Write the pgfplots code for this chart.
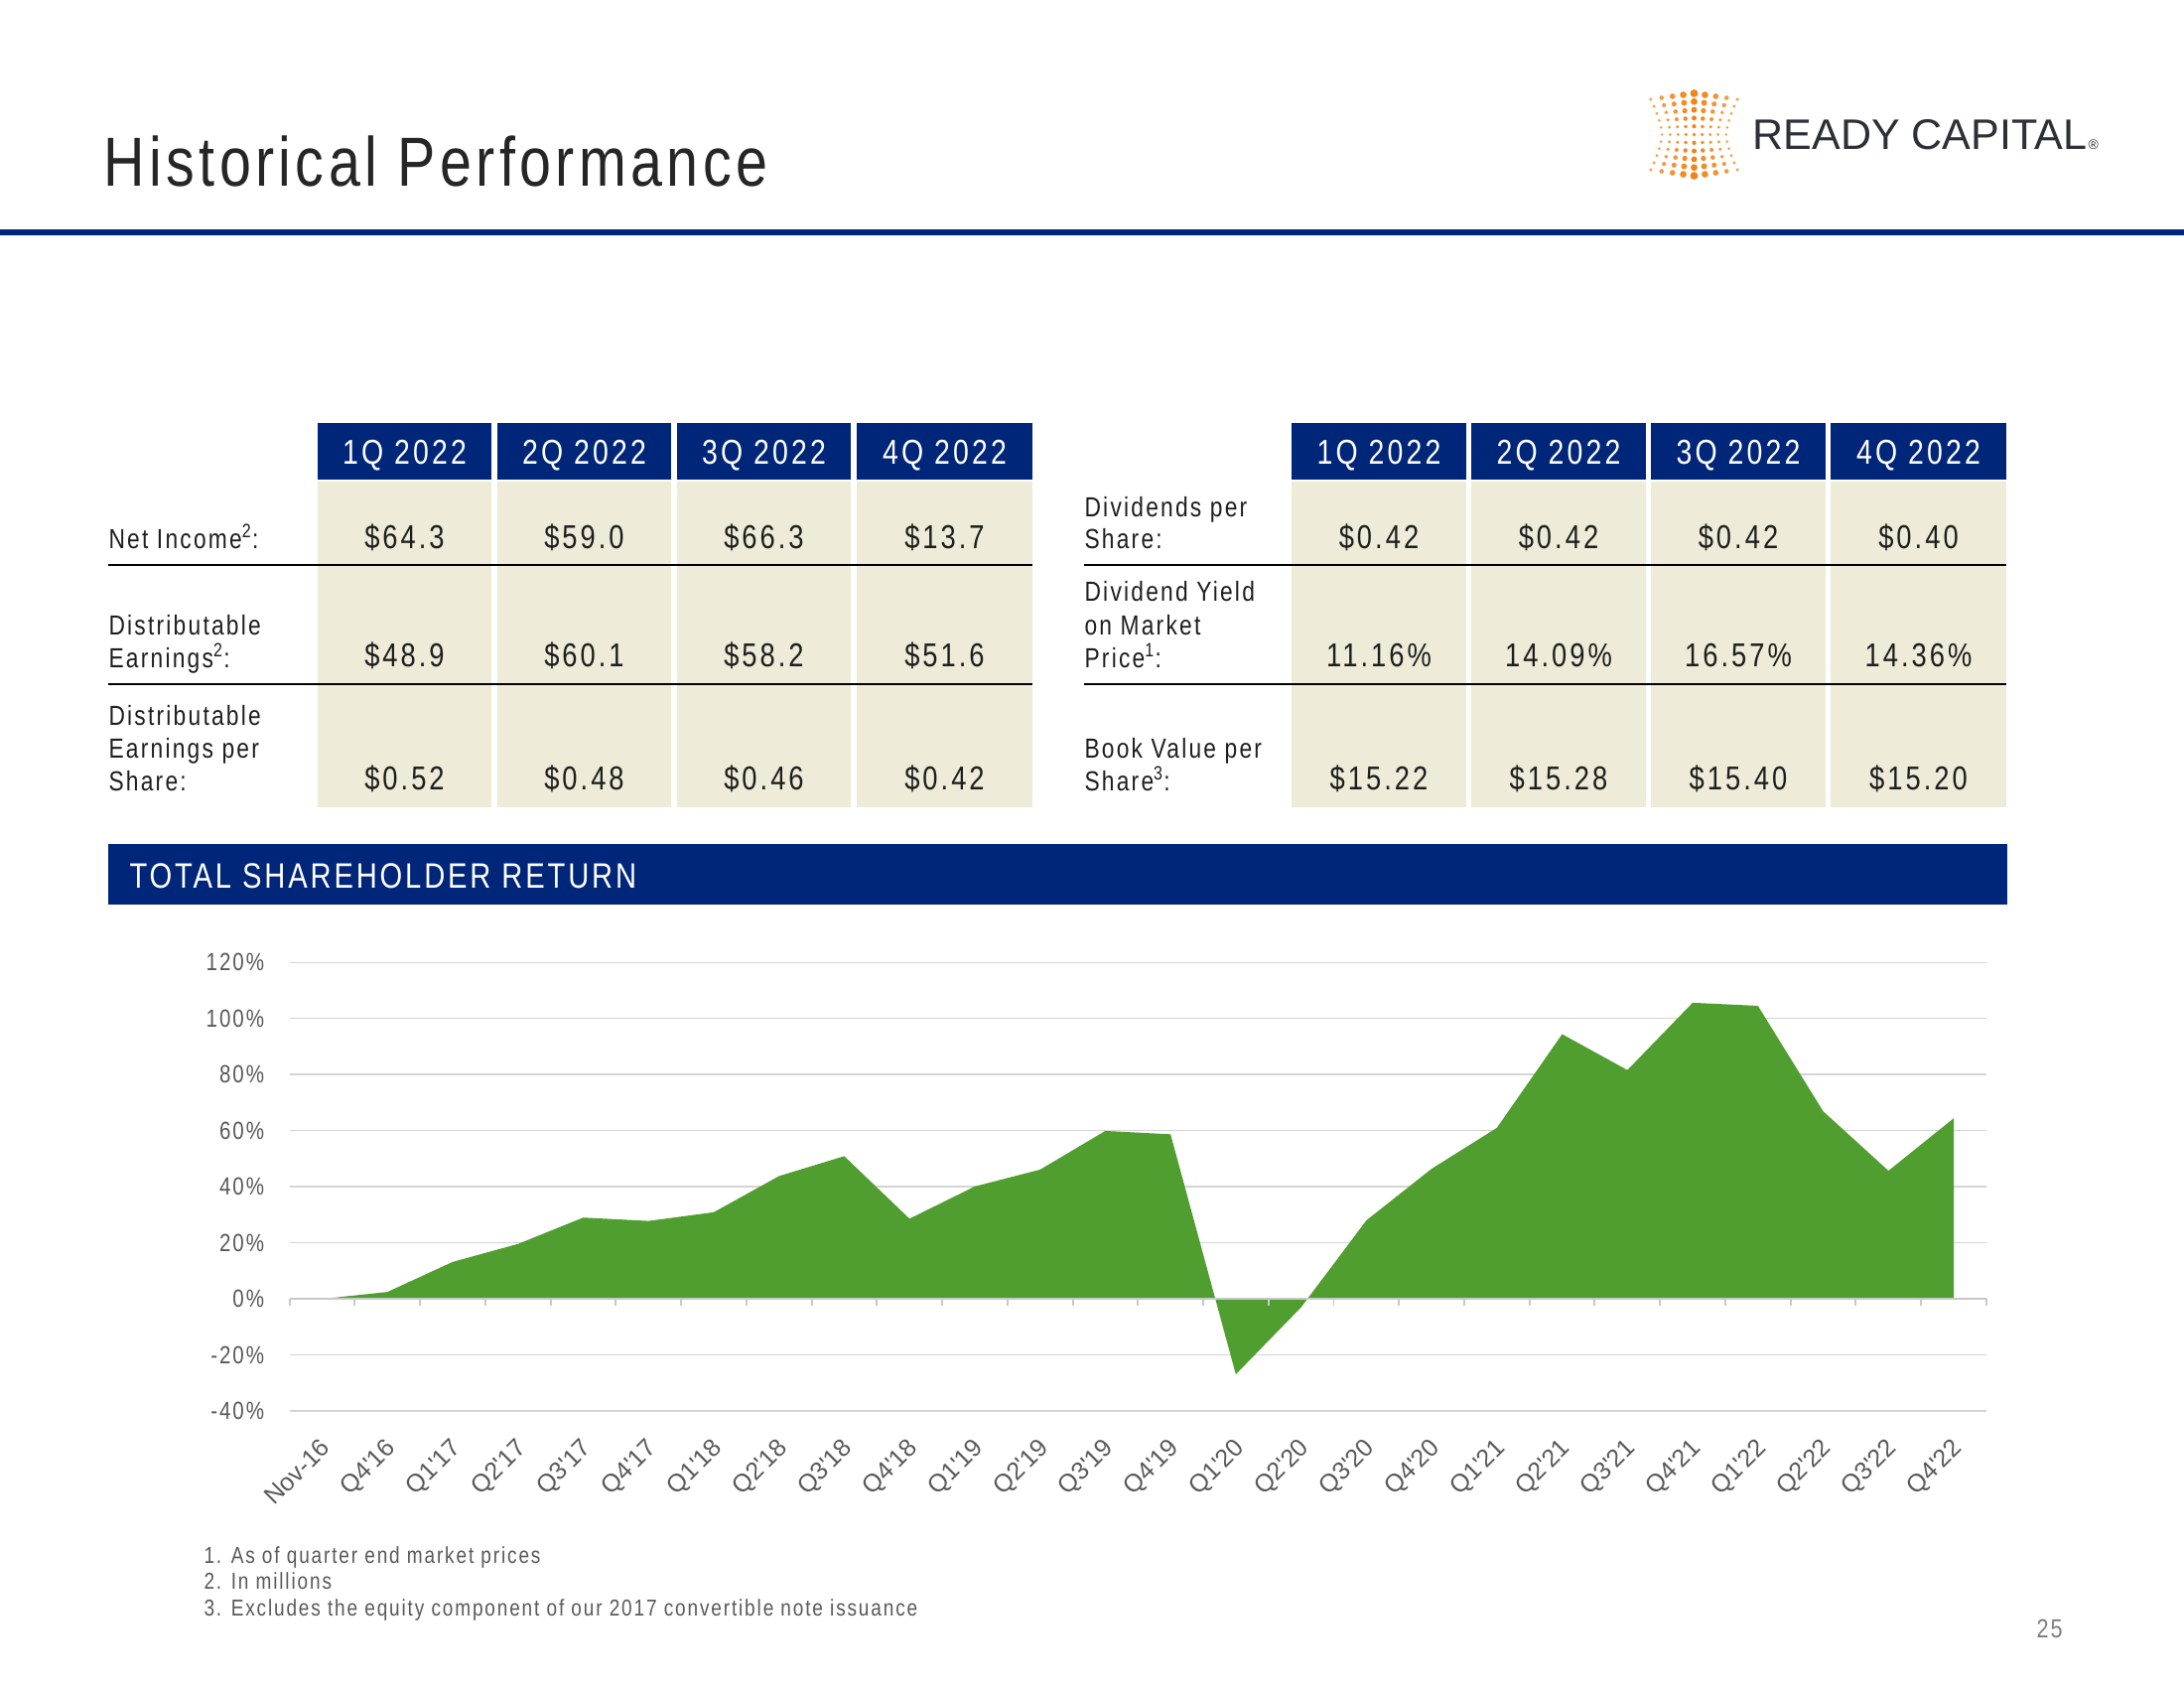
\documentclass[border=0pt]{standalone}
\usepackage{fontspec}
\usepackage{pgfplots}
\usepackage{pgfplotstable}
\pgfplotsset{compat=1.18}
\setmainfont{Liberation Sans}[FakeStretch=0.82, LetterSpace=8]
\newfontfamily\titlefont{Liberation Sans}[FakeStretch=0.82, LetterSpace=6.3]
\newfontfamily\valfont{Liberation Sans}[FakeStretch=0.82, LetterSpace=9]
\newfontfamily\logofont{Liberation Sans}
\newcommand\fs[1]{\fontsize{#1bp}{#1bp}\selectfont}
\definecolor{navy}{HTML}{00267A}
\definecolor{beige}{HTML}{EEEBD8}
\definecolor{tsrgreen}{HTML}{509E2F}
\definecolor{gridgray}{HTML}{D4D4D4}
\definecolor{axisgray}{HTML}{C8C8C8}
\definecolor{labgray}{HTML}{595959}
\definecolor{titlegray}{HTML}{262626}
\definecolor{txt}{HTML}{1E1E1E}
\definecolor{logoorange}{HTML}{F08519}
\definecolor{logotext}{HTML}{2D3037}
\definecolor{pagegray}{HTML}{7F7F7F}

\pgfplotstableread{
x y
0 0
1 2.5
2 13.2
3 19.6
4 29.0
5 27.8
6 30.9
7 43.8
8 50.9
9 28.6
10 40.1
11 46.1
12 59.9
13 58.7
14 -26.9
15 -3.0
16 28.0
17 46.4
18 61.0
19 94.4
20 81.6
21 105.6
22 104.5
23 66.9
24 45.7
25 64.4
}\tsrdata

\begin{document}
\begin{tikzpicture}
\begin{scope}[x=0.36bp,y=-0.36bp]
\fill[white] (0,0) rectangle (2200,1700);
\useasboundingbox (0,0) rectangle (2200,1700);
% title and rule
\node[anchor=base west, inner sep=0, text=titlegray, font=\titlefont\fs{25.2}] at (104,187) {Historical Performance};
\fill[navy] (0,231) rectangle (2200,237);
% logo
\foreach \i in {-4,...,4} {
  \foreach \j in {-5,...,5} {
    \pgfmathsetmacro\xx{1706.5 + \i*10.9*(0.74+0.26*(abs(\j)/5)^1.5)}
    \pgfmathsetmacro\yy{135.5 + \j*(8.3-1.2*abs(\i)/4)}
    \pgfmathsetmacro\rr{1.3 + 2.6*(1-abs(\i)/5)*(0.2+0.8*(abs(\j)/5)^1.2)}
    \pgfmathsetmacro\cc{100-25*abs(\i)/4}
    \fill[logoorange!\cc!white] (\xx,\yy) circle[radius=\rr];
  }
}
\node[anchor=base west, inner sep=0, text=logotext, font=\logofont\fs{15.5}] at (1765,150) (rc) {READY CAPITAL};
\node[anchor=base west, inner sep=0, text=logotext, font=\logofont\fs{5}] at (2103,150) {®};
% tables
\foreach \a/\b/\h in {320/495/1Q 2022, 501/676/2Q 2022, 682/857/3Q 2022, 863/1040/4Q 2022, 1301/1477/1Q 2022, 1482/1658/2Q 2022, 1663/1839/3Q 2022, 1844/2021/4Q 2022} {
  \fill[navy] (\a,426) rectangle (\b,483);
  \fill[beige] (\a,485) rectangle (\b,813);
  \node[anchor=base, inner sep=0, text=white, font=\valfont\fs{12.5}] at ({(\a+\b)/2},467) {\h};
}
\draw[black, line width=0.6bp] (109,569) -- (1040,569);
\draw[black, line width=0.6bp] (109,689) -- (1040,689);
\draw[black, line width=0.6bp] (1092,569) -- (2021,569);
\draw[black, line width=0.6bp] (1092,689) -- (2021,689);
\begin{scope}[every node/.style={inner sep=0, text=txt}]
% left labels
\node[anchor=base west, font=\fs{10}] at (109,552) {Net Income\textsuperscript{2}:};
\node[anchor=base west, font=\fs{10}] at (109,639) {Distributable};
\node[anchor=base west, font=\fs{10}] at (109,672) {Earnings\textsuperscript{2}:};
\node[anchor=base west, font=\fs{10}] at (109,730) {Distributable};
\node[anchor=base west, font=\fs{10}] at (109,763) {Earnings per};
\node[anchor=base west, font=\fs{10}] at (109,796) {Share:};
% right labels
\node[anchor=base west, font=\fs{10}] at (1092,520) {Dividends per};
\node[anchor=base west, font=\fs{10}] at (1092,552) {Share:};
\node[anchor=base west, font=\fs{10}] at (1092,605) {Dividend Yield};
\node[anchor=base west, font=\fs{10}] at (1092,639) {on Market};
\node[anchor=base west, font=\fs{10}] at (1092,672) {Price\textsuperscript{1}:};
\node[anchor=base west, font=\fs{10}] at (1092,763) {Book Value per};
\node[anchor=base west, font=\fs{10}] at (1092,796) {Share\textsuperscript{3}:};
% values
\foreach \c/\r/\s/\t in {407.5/\$64.3/\$48.9/\$0.52, 588.5/\$59.0/\$60.1/\$0.48, 769.5/\$66.3/\$58.2/\$0.46, 951.5/\$13.7/\$51.6/\$0.42, 1389/\$0.42/11.16\%/\$15.22, 1570/\$0.42/14.09\%/\$15.28, 1751/\$0.42/16.57\%/\$15.40, 1932.5/\$0.40/14.36\%/\$15.20} {
  \node[anchor=base, font=\valfont\fs{12}] at (\c,552) {\r};
  \node[anchor=base, font=\valfont\fs{12}] at (\c,671) {\s};
  \node[anchor=base, font=\valfont\fs{12}] at (\c,795) {\t};
}
\end{scope}
% TSR bar
\fill[navy] (109,850) rectangle (2022,911);
\node[anchor=base west, inner sep=0, text=white, font=\fs{12.8}] at (130,894) {TOTAL SHAREHOLDER RETURN};
% footnotes
\node[anchor=base west, inner sep=0, text=labgray, font=\fs{8.35}] at (205,1574) {1. As of quarter end market prices};
\node[anchor=base west, inner sep=0, text=labgray, font=\fs{8.35}] at (205,1600) {2. In millions};
\node[anchor=base west, inner sep=0, text=labgray, font=\fs{8.35}] at (205,1627) {3. Excludes the equity component of our 2017 convertible note issuance};
\node[anchor=base west, inner sep=0, text=pagegray, font=\fs{9.5}] at (2051,1649) {25};
\end{scope}

\begin{axis}[
  scale only axis, width=615.3bp, height=162.7bp,
  at={(105bp,-511.6bp)}, anchor=south west,
  xmin=-0.5, xmax=25.5, ymin=-40, ymax=120,
  axis line style={draw=none},
  xtick={0,...,25},
  xticklabels={Nov-16,Q4\textquotesingle16,Q1\textquotesingle17,Q2\textquotesingle17,Q3\textquotesingle17,Q4\textquotesingle17,Q1\textquotesingle18,Q2\textquotesingle18,Q3\textquotesingle18,Q4\textquotesingle18,Q1\textquotesingle19,Q2\textquotesingle19,Q3\textquotesingle19,Q4\textquotesingle19,Q1\textquotesingle20,Q2\textquotesingle20,Q3\textquotesingle20,Q4\textquotesingle20,Q1\textquotesingle21,Q2\textquotesingle21,Q3\textquotesingle21,Q4\textquotesingle21,Q1\textquotesingle22,Q2\textquotesingle22,Q3\textquotesingle22,Q4\textquotesingle22},
  ytick={-40,-20,0,20,40,60,80,100,120},
  yticklabels={-40\%,-20\%,0\%,20\%,40\%,60\%,80\%,100\%,120\%},
  ymajorgrids, grid style={draw=gridgray, line width=0.5bp},
  major tick length=0pt,
  tick label style={text=labgray},
  yticklabel style={font=\fs{9}, anchor=east, inner sep=0pt, xshift=-9bp},
  xticklabel style={font=\logofont\fs{9}, rotate=45, anchor=north east, inner sep=0pt, yshift=-5.7bp, xshift=-7.3bp},
]
\addplot[draw=none, fill=tsrgreen] table[x=x, y=y] {\tsrdata} \closedcycle;
\end{axis}
\begin{axis}[
  scale only axis, width=615.3bp, height=162.7bp,
  at={(105bp,-511.6bp)}, anchor=south west,
  xmin=-0.5, xmax=25.5, ymin=-40, ymax=120,
  axis x line=middle, axis y line=none,
  axis line style={draw=axisgray, line width=0.9bp, -},
  xtick={-0.5,0.5,...,25.5}, xticklabels={},
  ytick=\empty,
  tick align=outside, major tick length=2.6bp,
  x tick style={draw=axisgray, line width=0.7bp},
]
\end{axis}
\end{tikzpicture}
\end{document}
